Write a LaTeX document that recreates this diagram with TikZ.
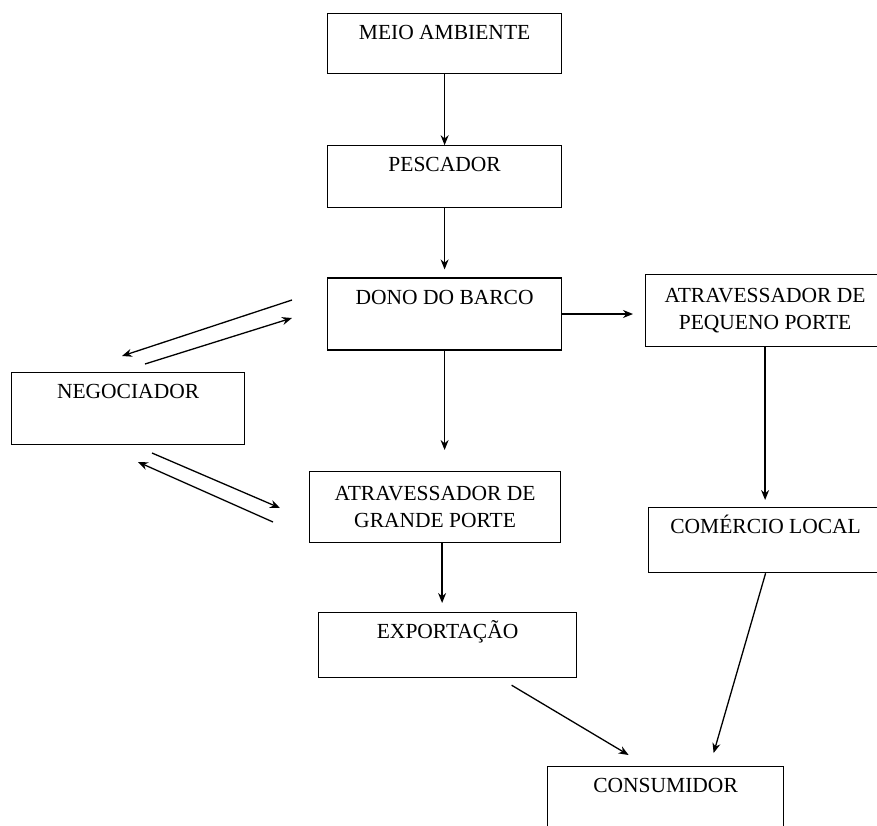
\documentclass[tikz,border=0pt]{standalone}
\usepackage{fontspec}
\setmainfont{Liberation Serif}
\usetikzlibrary{arrows.meta,positioning}

\tikzset{
  caixa/.style={draw, rectangle, line width=1.2pt, inner sep=0pt, align=center,
    font=\fontsize{21.5}{27}\selectfont},
  umalinha/.style={caixa, text height=26pt, text depth=#1},
  umalinha/.default=36pt,
  seta/.style={->, line width=1.3pt},
}

\begin{document}
\begin{tikzpicture}[x=1pt, y=-1pt, >={Stealth[length=10pt,width=8pt]}]
    \clip (0,0) rectangle (877,825);
    % Caixas
    \node [umalinha=34pt, minimum width=234pt, anchor=north west] (meio) at (327,13) {MEIO AMBIENTE};
    \node [umalinha, minimum width=234pt, below=71pt of meio] (pescador) {PESCADOR};
    \node [umalinha=46pt, minimum width=234pt, below=69pt of pescador] (dono) {DONO DO BARCO};
    \node [caixa, minimum width=239pt, minimum height=72pt, anchor=north west] (peq) at (645,274) {ATRAVESSADOR DE\\PEQUENO PORTE};
    \node [umalinha=46pt, minimum width=233pt, anchor=north west] (negociador) at (11,372) {NEGOCIADOR};
    \node [caixa, minimum width=251pt, minimum height=71pt, anchor=north west] (grande) at (309,471) {ATRAVESSADOR DE\\GRANDE PORTE};
    \node [umalinha=39pt, minimum width=234pt, anchor=north west] (comercio) at (648,507) {COMÉRCIO LOCAL};
    \node [umalinha=39pt, minimum width=258pt, anchor=north west] (exportacao) at (318,612) {EXPORTAÇÃO};
    \node [umalinha=60pt, minimum width=236pt, anchor=north west] (consumidor) at (547,766) {CONSUMIDOR};

    % Pontas soltas
    \coordinate (dn1) at (292,300);
    \coordinate (dn2) at (122,356);
    \coordinate (nd1) at (145,364);
    \coordinate (nd2) at (292,318);
    \coordinate (ng1) at (152,453);
    \coordinate (ng2) at (280,508);
    \coordinate (gn1) at (273,522);
    \coordinate (gn2) at (138,462);
    \coordinate (g) at ([xshift=7pt]grande.south);

    % Setas
    \draw [seta] (meio) -- (pescador);
    \draw [seta, shorten >=8pt] (pescador) -- (dono);
    \draw [seta, shorten >=12pt] (dono.east) -- (dono.east -| peq.west);
    \draw [seta, shorten >=21pt] (dono.south) -- (dono.south |- grande.north);
    \draw [seta, shorten >=9pt] (g) -- (g |- exportacao.north);
    \draw [seta, shorten >=7pt] (peq.south) -- (peq.south |- comercio.north);
    \draw [seta] (comercio.south) -- ([xshift=48pt, yshift=13pt]consumidor.north);
    \draw [seta] ([xshift=64pt, yshift=-7pt]exportacao.south) -- ([xshift=-37pt, yshift=11pt]consumidor.north);
    \draw [seta] (dn1) -- (dn2);
    \draw [seta] (nd1) -- (nd2);
    \draw [seta] (ng1) -- (ng2);
    \draw [seta] (gn1) -- (gn2);
\end{tikzpicture}
\end{document}
